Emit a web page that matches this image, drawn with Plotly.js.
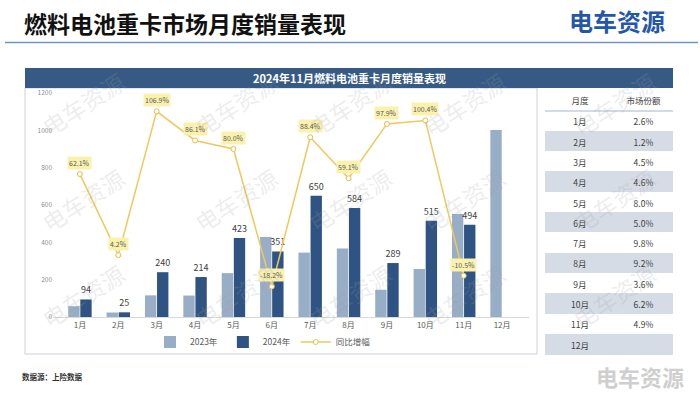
<!DOCTYPE html>
<html>
<head>
<meta charset="utf-8">
<script src="https://cdn.plot.ly/plotly-3.0.1.min.js"></script>
<style>
html,body{margin:0;padding:0;background:#fff;}
#chart{width:700px;height:393px;}
</style>
</head>
<body>
<div id="chart"></div>
<script>
// ---- data ----
const months = ['1月','2月','3月','4月','5月','6月','7月','8月','9月','10月','11月','12月'];
const sales2023 = [58, 24, 116, 115, 235, 429, 345, 367, 146, 257, 552, 1002];
const sales2024 = [94, 25, 240, 214, 423, 351, 650, 584, 289, 515, 494, null];
const yoyGrowth = [62.1, 4.2, 106.9, 86.1, 80.0, -18.2, 88.4, 59.1, 97.9, 100.4, -10.5, null];
const tableMonths = ['1月','2月','3月','4月','5月','6月','7月','8月','9月','10月','11月','12月'];
const marketShare = ['2.6%','1.2%','4.5%','4.6%','8.0%','5.0%','9.8%','9.2%','3.6%','6.2%','4.9%',''];
const yTicks = [0, 200, 400, 600, 800, 1000, 1200];

// ---- helpers ----
const W = 700, H = 393;
const px = x => x / W;
const py = y => 1 - y / H;
const FONT = 'Noto Sans CJK SC, sans-serif';
const rowColors = tableMonths.map((m, i) => i % 2 ? '#d6dce5' : '#ffffff');

const traces = [
  {
    type: 'bar', name: '2023年', x: months, y: sales2023,
    marker: {color: '#98adc6'}, hoverinfo: 'none'
  },
  {
    type: 'bar', name: '2024年', x: months, y: sales2024,
    marker: {color: '#2f5382'},
    text: sales2024.map(v => v == null ? '' : String(v)),
    textposition: 'outside', constraintext: 'none', cliponaxis: false,
    textfont: {size: 9, color: '#404040', family: FONT}, hoverinfo: 'none'
  },
  {
    type: 'scatter', mode: 'lines+markers', name: '同比增幅',
    x: months, y: yoyGrowth, yaxis: 'y2',
    line: {color: '#f2c85b', width: 1.5},
    marker: {symbol: 'circle', size: 5, color: '#ffffff', line: {color: '#e9bd4c', width: 1}},
    cliponaxis: false, hoverinfo: 'none'
  },
  {
    type: 'table',
    domain: {x: [px(545), px(673)], y: [py(360), py(90)]},
    columnwidth: [0.55, 0.45],
    header: {
      values: ['月度', '市场份额'], align: 'center', height: 21,
      fill: {color: '#ffffff'}, line: {width: 1, color: '#ffffff'},
      font: {size: 8.5, color: '#404040', family: FONT}
    },
    cells: {
      values: [tableMonths, marketShare], align: 'center', height: 20.3,
      fill: {color: [rowColors, rowColors]},
      line: {width: 1, color: [rowColors, rowColors]},
      font: {size: 8.5, color: '#404040', family: FONT}
    }
  }
];

const annotations = [];
yoyGrowth.forEach((v, i) => {
  if (v == null) return;
  annotations.push({
    x: months[i], y: v, xref: 'x', yref: 'y2', yshift: 11,
    text: v.toFixed(1) + '%', showarrow: false,
    bgcolor: '#fbf1ae', borderpad: 1,
    font: {size: 7, color: '#595959', family: FONT}
  });
});

// watermarks
const wmX = [32, 185, 350, 515, 665];
const wmY = [62, 200, 338];
wmY.forEach(yy => wmX.forEach(xx => {
  annotations.push({
    xref: 'paper', yref: 'paper', x: px(xx), y: py(yy),
    text: '电车资源', showarrow: false, textangle: -33,
    font: {size: 23, color: 'rgba(160,160,160,0.2)', family: FONT}
  });
}));

// page texts
annotations.push(
  {xref: 'paper', yref: 'paper', x: px(22), y: py(23), xanchor: 'left', yanchor: 'middle',
   text: '<b>燃料电池重卡市场月度销量表现</b>', showarrow: false,
   font: {size: 23, color: '#111111', family: FONT}},
  {xref: 'paper', yref: 'paper', x: px(617), y: py(21), xanchor: 'center', yanchor: 'middle',
   text: '<b>电车资源</b>', showarrow: false,
   font: {size: 24, color: '#2557a7', family: FONT}},
  {xref: 'paper', yref: 'paper', x: px(349), y: py(78), xanchor: 'center', yanchor: 'middle',
   text: '<b>2024年11月燃料电池重卡月度销量表现</b>', showarrow: false,
   font: {size: 11, color: '#ffffff', family: FONT}},
  {xref: 'paper', yref: 'paper', x: px(20), y: py(376), xanchor: 'left', yanchor: 'middle',
   text: '<b>数据源：上险数据</b>', showarrow: false,
   font: {size: 7.5, color: '#333333', family: FONT}},
  {xref: 'paper', yref: 'paper', x: px(640), y: py(376), xanchor: 'center', yanchor: 'middle',
   text: '<b>电车资源</b>', showarrow: false,
   font: {size: 22, color: '#cfcfcf', family: FONT}}
);

const shapes = [
  {type: 'line', xref: 'paper', yref: 'paper', x0: px(5), x1: px(698), y0: py(42.5), y1: py(42.5),
   line: {color: '#7393c2', width: 1.5}},
  {type: 'rect', xref: 'paper', yref: 'paper', x0: px(25), x1: px(537), y0: py(354), y1: py(88),
   line: {color: '#c9d2de', width: 1}, fillcolor: 'rgba(0,0,0,0)'},
  {type: 'rect', xref: 'paper', yref: 'paper', x0: px(25), x1: px(673), y0: py(88), y1: py(68),
   line: {width: 0}, fillcolor: '#365a84'},
  {type: 'line', xref: 'paper', yref: 'paper', x0: px(545), x1: px(673), y0: py(111), y1: py(111),
   line: {color: '#a9b5c6', width: 1}}
];

const layout = {
  width: W, height: H,
  margin: {l: 0, r: 0, t: 0, b: 0},
  paper_bgcolor: '#ffffff', plot_bgcolor: 'rgba(0,0,0,0)',
  font: {family: FONT},
  barmode: 'group', bargap: 0.37, bargroupgap: 0.06,
  showlegend: true,
  legend: {orientation: 'h', x: px(263), xanchor: 'center', y: py(342), yanchor: 'middle',
           font: {size: 8.5, color: '#595959', family: FONT}, bgcolor: 'rgba(0,0,0,0)',
           itemwidth: 30, tracegroupgap: 0},
  xaxis: {domain: [px(53), px(529)], type: 'category',
          tickfont: {size: 8, color: '#595959', family: FONT},
          showline: true, linecolor: '#d9d9d9', linewidth: 1, ticks: '', showgrid: false},
  yaxis: {domain: [py(317), py(93)], range: [0, 1200], tickvals: yTicks,
          tickfont: {size: 6.5, color: '#8c8c8c', family: FONT},
          showgrid: false, zeroline: false, showline: false, ticks: ''},
  yaxis2: {domain: [py(317), py(93)], overlaying: 'y', side: 'right', range: [-40, 120],
           visible: false, showgrid: false, zeroline: false},
  shapes: shapes,
  annotations: annotations
};

Plotly.newPlot('chart', traces, layout, {displayModeBar: false, staticPlot: true});
</script>
</body>
</html>
